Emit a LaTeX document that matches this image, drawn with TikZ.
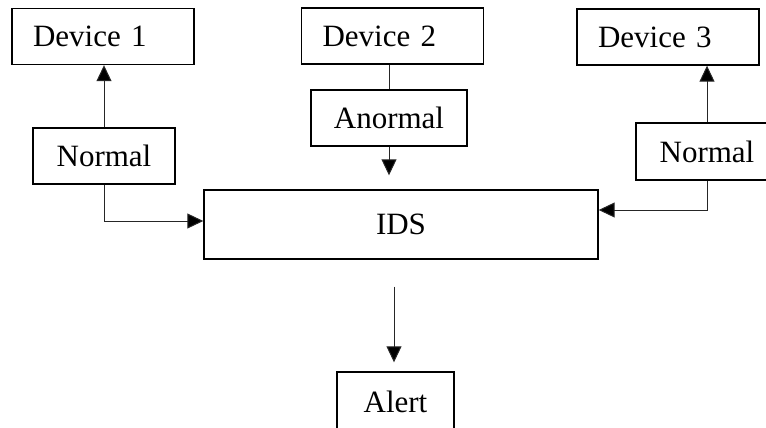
\documentclass[tikz,border=0pt]{standalone}
\usepackage{fontspec}
\setmainfont{Liberation Serif}
\usetikzlibrary{arrows.meta}
\tikzstyle{box}=[shape=rectangle,draw,line width=1.4pt,inner sep=0pt,font=\fontsize{31}{37}\selectfont]
\tikzstyle{dev}=[box,text width=140pt,inner xsep=21pt,minimum height=56pt,align=left]
\tikzstyle{to}=[-{Triangle[length=16pt,width=15pt,fill=black]},line width=1pt,draw=black!85]
\tikzstyle{common}=[line width=1pt,draw=black!85]

\begin{document}
\begin{tikzpicture}[x=1pt,y=-1pt]
        \useasboundingbox (0,0) rectangle (766,428);
        \clip (0,0) rectangle (766,428);
        \node[dev] (dev1) at (103, 36.5) {Device 1};
        \node[dev] (dev2) at (392.5, 36) {Device 2};
        \node[dev] (dev3) at (668, 37) {Device 3};
        \node[box, minimum width=142pt, minimum height=56pt] (norm1) at (104, 156) {Normal}
            edge[to] (norm1.north |- dev1.south)
        ;
        \node[box, minimum width=156pt, minimum height=56pt] (anorm) at (389, 118) {Anormal}
            edge[common] (anorm.north |- dev2.south)
        ;
        \node[box, minimum width=142pt, minimum height=57pt] (norm3) at (707, 151.5) {Normal}
            edge[to] (norm3.north |- dev3.south)
        ;
        \node[box, minimum width=394pt, minimum height=69pt] (ids) at (401, 224.5) {IDS};
        \node[box, minimum width=117pt, minimum height=60pt] (alert) at (395.5, 402) {Alert};

        \draw[to] (norm1.south) |- ([yshift=3.5pt]ids.west);
        \draw[to] (norm3.south) |- ([yshift=14.5pt]ids.east);
        \draw[to, shorten >=14pt] (anorm.south) -- (anorm.south |- ids.north);
        \draw[to, shorten <=27pt, shorten >=9pt] ([xshift=-7pt]ids.south) -- ([xshift=-1.5pt]alert.north);
    \end{tikzpicture}
\end{document}
